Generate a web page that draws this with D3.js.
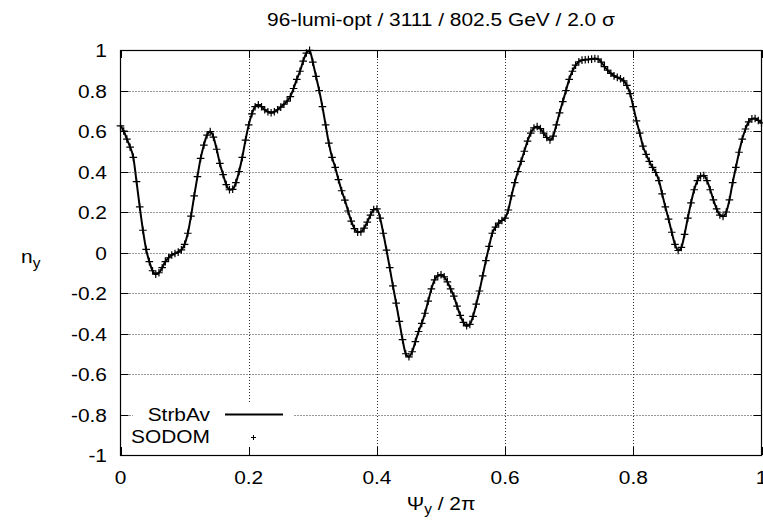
<!DOCTYPE html>
<html>
<head>
<meta charset="utf-8">
<script src="https://cdn.jsdelivr.net/npm/d3@7"></script>
<style>
  html, body { margin: 0; padding: 0; background: #fff; }
  svg text { font-family: "Liberation Sans", Arial, Helvetica, sans-serif; fill: #000; }
</style>
</head>
<body>
<svg id="chart" width="763" height="520"></svg>
<script>
// Vertical tune n_y versus betatron phase Psi_y / 2pi, sampled every 0.005
const psiStep = 0.005;
const nyValues = [
  0.625, 0.600, 0.560, 0.520, 0.470, 0.350, 0.225, 0.110, 0.015, -0.045,
  -0.090, -0.107, -0.100, -0.075, -0.045, -0.026, -0.012, -0.005, 0.002, 0.013,
  0.040, 0.095, 0.180, 0.280, 0.375, 0.465, 0.530, 0.580, 0.597, 0.570,
  0.510, 0.440, 0.385, 0.335, 0.310, 0.312, 0.345, 0.400, 0.470, 0.555,
  0.630, 0.685, 0.720, 0.730, 0.720, 0.705, 0.695, 0.690, 0.695, 0.705,
  0.718, 0.732, 0.748, 0.770, 0.810, 0.855, 0.895, 0.945, 0.985, 0.998,
  0.940, 0.870, 0.800, 0.720, 0.630, 0.540, 0.470, 0.420, 0.360, 0.305,
  0.259, 0.205, 0.155, 0.118, 0.100, 0.102, 0.120, 0.150, 0.185, 0.212,
  0.215, 0.170, 0.095, 0.012, -0.075, -0.165, -0.250, -0.340, -0.430, -0.500,
  -0.515, -0.490, -0.440, -0.390, -0.350, -0.300, -0.240, -0.180, -0.135, -0.115,
  -0.110, -0.120, -0.145, -0.180, -0.215, -0.265, -0.310, -0.345, -0.362, -0.355,
  -0.315, -0.255, -0.190, -0.115, -0.040, 0.030, 0.095, 0.125, 0.145, 0.158,
  0.170, 0.210, 0.280, 0.345, 0.400, 0.450, 0.500, 0.550, 0.590, 0.615,
  0.622, 0.612, 0.590, 0.568, 0.556, 0.575, 0.630, 0.690, 0.745, 0.800,
  0.855, 0.895, 0.925, 0.942, 0.950, 0.952, 0.953, 0.955, 0.958, 0.955,
  0.940, 0.918, 0.900, 0.885, 0.872, 0.865, 0.858, 0.848, 0.825, 0.785,
  0.720, 0.650, 0.590, 0.525, 0.485, 0.450, 0.420, 0.395, 0.355, 0.290,
  0.225, 0.165, 0.100, 0.040, 0.010, 0.025, 0.090, 0.170, 0.245, 0.310,
  0.355, 0.378, 0.380, 0.355, 0.310, 0.260, 0.215, 0.185, 0.178, 0.200,
  0.260, 0.345, 0.420, 0.495, 0.560, 0.610, 0.645, 0.660, 0.662, 0.652,
  0.640
];
const psiValues = nyValues.map((_, i) => +(i * psiStep).toFixed(3));

// The two codes give the same curve: StrbAv as a line, SODOM as points
const strbAv = psiValues.map((p, i) => ({ psi: p, ny: nyValues[i] }));
const sodom  = psiValues.map((p, i) => ({ psi: p, ny: nyValues[i] }));

const xTicks = [0, 0.2, 0.4, 0.6, 0.8, 1];
const yTicks = [-1, -0.8, -0.6, -0.4, -0.2, 0, 0.2, 0.4, 0.6, 0.8, 1];
const titleText = "96-lumi-opt / 3111 / 802.5 GeV / 2.0 \u03c3";
const legendLabels = ["StrbAv", "SODOM"];

const svg = d3.select("#chart");
const pL = 120.5, pR = 761.5, pT = 50, pB = 455;
const x = d3.scaleLinear().domain([0, 1]).range([pL, pR]);
const y = d3.scaleLinear().domain([-1, 1]).range([pB, pT]);
const fmt = v => (Math.abs(v) < 1e-9 ? "0" : String(+v.toFixed(1)));

// text is set slightly wide, as in the original terminal output
const stretch = 1.1;
const label = (parent, tx, ty, anchor, size) =>
  parent.append("text")
    .attr("transform", `translate(${tx},${ty}) scale(${stretch},1)`)
    .attr("text-anchor", anchor).attr("font-size", size);

// dotted grid
const grid = svg.append("g").attr("stroke", "#333").attr("stroke-width", 1)
  .attr("stroke-dasharray", "1,2").attr("fill", "none");
grid.selectAll("line.gx").data(xTicks.filter(t => t > 0 && t < 1)).join("line")
  .attr("x1", d => Math.round(x(d)) + 0.5).attr("x2", d => Math.round(x(d)) + 0.5)
  .attr("y1", pT).attr("y2", pB);
grid.selectAll("line.gy").data(yTicks.filter(t => t > -1 && t < 1)).join("line")
  .attr("y1", d => Math.round(y(d)) + 0.5).attr("y2", d => Math.round(y(d)) + 0.5)
  .attr("x1", pL).attr("x2", pR);

// legend background clears the grid behind the key
svg.append("rect").attr("x", 133).attr("y", 404).attr("width", 161).attr("height", 44)
  .attr("fill", "#fff");

// inward ticks on all four sides
const tickLen = 8;
const ticks = svg.append("g").attr("stroke", "#000").attr("stroke-width", 1);
xTicks.forEach(t => {
  const px = Math.round(x(t)) + 0.5;
  ticks.append("line").attr("x1", px).attr("x2", px).attr("y1", pB).attr("y2", pB - tickLen);
  ticks.append("line").attr("x1", px).attr("x2", px).attr("y1", pT).attr("y2", pT + tickLen);
});
yTicks.forEach(t => {
  const py = Math.round(y(t)) + 0.5;
  ticks.append("line").attr("y1", py).attr("y2", py).attr("x1", pL).attr("x2", pL + tickLen);
  ticks.append("line").attr("y1", py).attr("y2", py).attr("x1", pR).attr("x2", pR - tickLen);
});

// frame
svg.append("rect").attr("x", pL).attr("y", pT + 0.5).attr("width", pR - pL)
  .attr("height", pB - pT).attr("fill", "none").attr("stroke", "#000").attr("stroke-width", 1.2);

// tick labels
const fs = 19;
const xLab = svg.append("g");
xTicks.forEach(t => label(xLab, x(t), pB + 29, "middle", fs).text(fmt(t)));
const yLab = svg.append("g");
yTicks.forEach(t => label(yLab, 107, y(t) + 7, "end", fs).text(fmt(t)));

// title
label(svg, 441, 26, "middle", 19).text(titleText);

// axis labels
const xl = label(svg, 441, 510, "middle", 19);
xl.append("tspan").text("\u03a8");
xl.append("tspan").attr("font-size", 14).attr("dy", 4).text("y");
xl.append("tspan").attr("dy", -4).text(" / 2\u03c0");

const yl = label(svg, 21, 263, "start", 19);
yl.append("tspan").text("n");
yl.append("tspan").attr("font-size", 14).attr("dy", 5).text("y");

// StrbAv line
const line = d3.line().x(d => x(d.psi)).y(d => y(d.ny)).curve(d3.curveMonotoneX);
svg.append("path").datum(strbAv).attr("d", line)
  .attr("fill", "none").attr("stroke", "#000").attr("stroke-width", 2);

// SODOM plus markers
const plus = (cx, cy, r) => `M${cx - r},${cy}H${cx + r}M${cx},${cy - r}V${cy + r}`;
svg.append("path")
  .attr("d", sodom.map(d => plus(x(d.psi), y(d.ny), 3.8)).join(""))
  .attr("fill", "none").attr("stroke", "#000").attr("stroke-width", 1.2);

// key
const key = svg.append("g");
label(key, 210, 421, "end", 19).text(legendLabels[0]);
key.append("line").attr("x1", 225).attr("x2", 283).attr("y1", 414.5).attr("y2", 414.5)
  .attr("stroke", "#000").attr("stroke-width", 2);
label(key, 210, 443, "end", 19).text(legendLabels[1]);
key.append("path").attr("d", plus(253.5, 437.5, 2.5)).attr("stroke", "#000").attr("stroke-width", 1);
</script>
</body>
</html>
